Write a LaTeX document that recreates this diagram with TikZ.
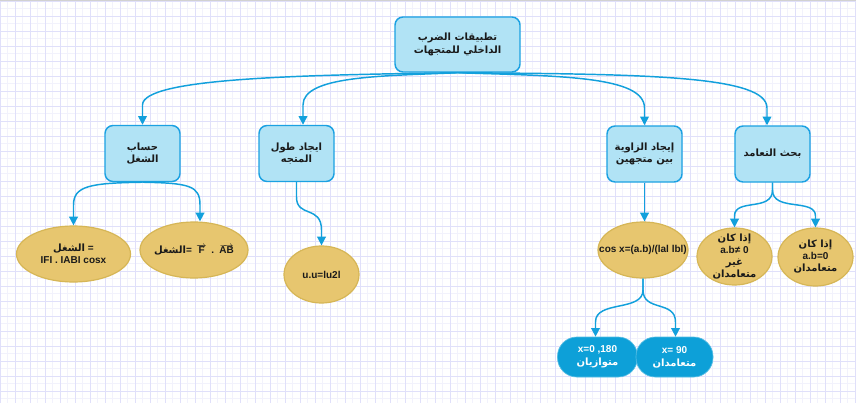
\documentclass[tikz,border=0pt]{standalone}
\usepackage{fontspec}
\setmainfont{Liberation Sans}
\newfontfamily\arabicfont[Script=Arabic]{DejaVu Sans}
\TeXXeTstate=1
\usetikzlibrary{arrows.meta,shapes.geometric,calc}
\definecolor{boxfill}{RGB}{177,227,245}
\definecolor{boxline}{RGB}{27,161,226}
\definecolor{goldfill}{RGB}{231,198,111}
\definecolor{goldline}{RGB}{214,182,86}
\definecolor{pillfill}{RGB}{13,160,216}
\definecolor{edgecol}{RGB}{18,160,220}
\definecolor{gridmaj}{RGB}{224,224,250}
\definecolor{gridmin}{RGB}{242,242,252}
\definecolor{ink}{RGB}{26,26,26}
\newcommand\artxt[1]{{\arabicfont\bfseries\beginR #1\endR}}
\tikzset{
  bluebox/.style={rectangle, rounded corners=6pt, draw=boxline, line width=1.1pt, fill=boxfill,
    minimum width=56.25pt, minimum height=42pt, align=center, text=ink, inner sep=2pt,
    font=\bfseries\fontsize{7.5}{9.5}\selectfont},
  goldell/.style={ellipse, draw=goldline, line width=0.9pt, fill=goldfill, inner sep=0pt},
  pill/.style={rectangle, rounded corners=14.5pt, fill=pillfill, draw=white!30!pillfill, line width=0.5pt,
    minimum height=30pt, text=white, align=center, inner sep=1pt,
    font=\bfseries\fontsize{7.5}{9.5}\selectfont},
  lbl/.style={align=center, text=ink, inner sep=0pt, font=\bfseries\fontsize{7.5}{9}\selectfont},
  conn/.style={draw=edgecol, line width=1.1pt, -{Triangle[length=6.5pt,width=6.5pt]}}
}
\begin{document}
\begin{tikzpicture}[x=0.75pt,y=-0.75pt]
\useasboundingbox (0,0) rectangle (856,403);
\fill[white] (0,0) rectangle (856,403);
% grid
\foreach \i in {0,...,57} {
  \draw[gridmin, line width=0.6pt] (\i*15+7.8,0) -- (\i*15+7.8,403);
}
\foreach \j in {0,...,27} {
  \draw[gridmin, line width=0.6pt] (0,\j*15+8.8) -- (856,\j*15+8.8);
}
\foreach \i in {0,...,57} {
  \draw[gridmaj, line width=0.75pt] (\i*15+0.3,0) -- (\i*15+0.3,403);
}
\foreach \j in {0,...,27} {
  \draw[gridmaj, line width=0.75pt] (0,\j*15+1.3) -- (856,\j*15+1.3);
}
\draw[black!18, line width=1.2pt] (0,0.6) -- (856,0.6);

% boxes
\node[bluebox, minimum width=93.75pt, minimum height=41.25pt] (root) at (457.5,44.5)
  {\artxt{تطبيقات الضرب}\\\artxt{الداخلي للمتجهات}};
\node[bluebox] (B1) at (142.5,153.5) {\artxt{حساب}\\\artxt{الشغل}};
\node[bluebox] (B2) at (296.5,153.5) {\artxt{ايجاد طول}\\\artxt{المتجه}};
\node[bluebox] (B3) at (644.5,154) {\artxt{إيجاد الزاوية}\\\artxt{بين متجهين}};
\node[bluebox] (B4) at (772.5,154) {\artxt{بحث التعامد}};

% ellipses
\node[goldell, minimum width=85.5pt, minimum height=42pt] (E1) at (73.5,254) {};
\node[lbl] (E1t) at (E1) {\artxt{الشغل} =\\IFI . IABI cosx};
\node[goldell, minimum width=81pt, minimum height=42pt] (E2) at (194,250) {};
\node[lbl] (E2t) at (E2) {\artxt{الشغل}=\, $\overrightarrow{\hbox{F}}$ \,.\, $\overrightarrow{\hbox{AB}}$};
\node[goldell, minimum width=56.25pt, minimum height=42.75pt] (E3) at (321.5,274.5) {};
\node[lbl] (E3t) at (E3) {u.u=lu2l};
\node[goldell, minimum width=67.5pt, minimum height=42pt] (E4) at (643,250) {};
\node[lbl] (E4t) at (E4) {cos x=(a.b)/(lal lbl)};
\node[goldell, minimum width=56.25pt, minimum height=42.75pt] (E5) at (734.5,256.5) {};
\node[lbl] (E5t) at (E5) {\artxt{إذا كان}\\a.b≠ 0\\\artxt{غير}\\\artxt{متعامدان}};
\node[goldell, minimum width=56.25pt, minimum height=43.5pt] (E6) at (815.5,257) {};
\node[lbl] (E6t) at (E6) {\artxt{إذا كان}\\a.b=0\\\artxt{متعامدان}};

% pills
\node[pill, minimum width=60pt] (P1) at (597.5,357) {x=0 ,180\\\artxt{متوازيان}};
\node[pill, minimum width=57.75pt] (P2) at (674.5,357) {x= 90\\\artxt{متعامدان}};

% connectors
\draw[conn] (root.south) .. controls (300,75) and (142.5,78) .. (142.5,105) -- (B1.north);
\draw[conn] (root.south) .. controls (380,76) and (303,76) .. (303,105) -- ([xshift=4.875pt]B2.north);
\draw[conn] (root.south) .. controls (560,76) and (644.5,76) .. (644.5,108) -- (B3.north);
\draw[conn] (root.south) .. controls (650,74) and (767,76) .. (767,108) -- ([xshift=-4.125pt]B4.north);
\draw[conn] (B1.south) .. controls (90,183) and (73.5,186) .. (73.5,205) -- (E1.north);
\draw[conn] (B1.south) .. controls (190,183) and (200,186) .. (200,205) -- ([xshift=4.5pt]E2.north);
\draw[conn] (B2.south) -- (296.5,197) .. controls (296.5,218) and (321.5,205) .. (321.5,230) -- (E3.north);
\draw[conn] (B3.south) -- (B3.south |- E4.north);
\draw[conn] (B4.south) -- (772.5,190) .. controls (772.5,212) and (734.5,198) .. (734.5,216) -- (E5.north);
\draw[conn] (B4.south) -- (772.5,190) .. controls (772.5,212) and (815.5,198) .. (815.5,216) -- (E6.north);
\draw[conn] (E4.south) -- (643,290) .. controls (643,312) and (595.5,300) .. (595.5,322) -- ([xshift=-1.5pt]P1.north);
\draw[conn] (E4.south) -- (643,290) .. controls (643,312) and (675.5,300) .. (675.5,322) -- ([xshift=0.75pt]P2.north);
\end{tikzpicture}
\end{document}
